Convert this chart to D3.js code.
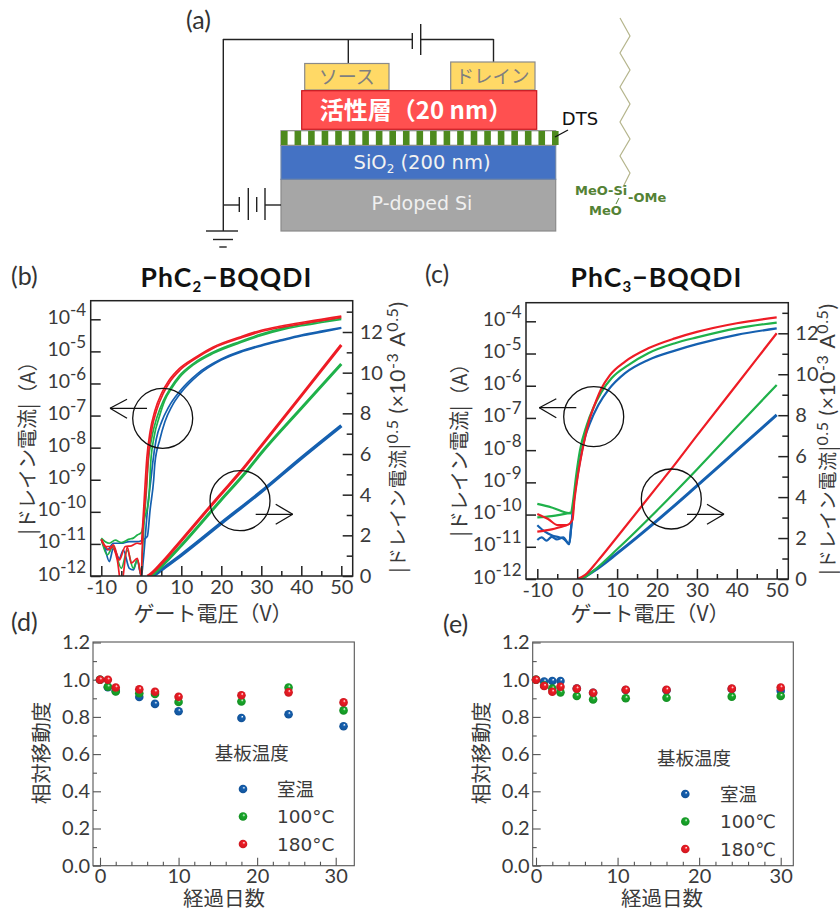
<!DOCTYPE html>
<html>
<head>
<meta charset="utf-8">
<script src="https://cdn.jsdelivr.net/npm/d3@7"></script>
<style>
  body { margin: 0; background: #fff; }
  svg { display: block; }
  text { font-family: Lato, "Noto Sans CJK JP", sans-serif; fill: #333; }
  .jp { font-family: "Noto Sans CJK JP", sans-serif; }
  .dv { font-family: "DejaVu Sans", sans-serif; }
</style>
</head>
<body>
<script>
// panel (b) PhC2-BQQDI, transfer curves: [gate voltage, log10 |Id|]
var bLogBlueA = [[-10,-10.85],[-8.5,-11.19],[-7,-10.98],[-5,-10.98],[-3,-10.93],[-1,-10.93],[0,-10.9],[1.5,-10.77],[2.2,-9.94],[3.1,-9.0],[3.4,-8.48],[4.6,-7.76],[5.9,-7.19],[7.6,-6.72],[10.1,-6.26],[14.2,-5.74],[20,-5.27],[24.7,-5.03],[30,-4.83],[35,-4.67],[40,-4.52],[45,-4.4],[50,-4.28]];
var bLogBlueB = [[-10,-10.875],[-9,-11.19],[-8,-11.55],[-7,-11.14],[-5.5,-11.45],[-4.5,-11.19],[-3,-11.76],[-2,-11.81],[-1,-11.5],[0,-12.02],[0.5,-11.5],[1.1,-10.6],[1.7,-9.7],[2.4,-9.0],[2.85,-8.48],[3.7,-7.76],[5.1,-7.19],[6.9,-6.72],[9.7,-6.23],[14,-5.7],[20,-5.24],[24.7,-5.0],[30,-4.8],[35,-4.64],[40,-4.49],[45,-4.37],[50,-4.26]];
var bLogGreenA = [[-10,-10.82],[-9,-10.93],[-8,-10.98],[-6.5,-10.88],[-5,-10.96],[-3,-10.85],[-2,-10.82],[-1,-10.72],[0,-10.65],[0.9,-10.15],[1.5,-9.9],[1.93,-9.53],[2.35,-8.48],[3.2,-7.66],[4.5,-7.04],[5.9,-6.52],[7.6,-6.15],[9.7,-5.79],[13,-5.42],[18,-5.06],[24.7,-4.73],[30,-4.5],[35,-4.33],[40,-4.2],[45,-4.1],[50,-4.0]];
var bLogGreenB = [[-10,-10.85],[-8.5,-11.34],[-7,-11.08],[-5,-11.76],[-3.5,-11.2],[-2,-11.76],[-1,-11.5],[0,-11.97],[0.3,-11.2],[0.7,-10.3],[1.2,-9.5],[1.7,-8.5],[2.6,-7.7],[3.9,-7.06],[5.5,-6.54],[7.3,-6.14],[9.5,-5.76],[13,-5.38],[18,-5.02],[24.7,-4.69],[30,-4.46],[35,-4.29],[40,-4.16],[45,-4.06],[50,-3.96]];
var bLogRedA = [[-10,-10.875],[-9,-11.08],[-7.5,-11.08],[-6,-11.5],[-5,-12.3],[-3.5,-11.1],[-2.5,-11.6],[-1,-11.45],[0,-12.0],[0.1,-11.7],[0.4,-10.6],[0.8,-9.9],[1.2,-9.32],[1.75,-8.28],[2.6,-7.45],[3.85,-6.83],[5.5,-6.31],[7.2,-5.94],[9.7,-5.58],[13,-5.27],[18,-4.9],[24.7,-4.59],[30,-4.38],[35,-4.25],[40,-4.14],[45,-4.04],[50,-3.94]];
var bLogRedB = [[-10,-10.85],[-8,-11.19],[-7,-11.03],[-5.5,-11.5],[-4,-11.08],[-2.5,-11.06],[-1,-10.98],[0,-11.0],[0.3,-10.5],[0.6,-9.9],[0.9,-9.25],[1.4,-8.3],[2.2,-7.5],[3.4,-6.85],[5.1,-6.3],[6.9,-5.91],[9.5,-5.54],[13,-5.23],[18,-4.86],[24.7,-4.55],[30,-4.34],[35,-4.21],[40,-4.1],[45,-4.0],[50,-3.9]];
// panel (b) |Id|^0.5 in 10^-3 A^0.5
var bSqrtBlue = [[3,0],[5,0.3],[10,1.03],[20,2.6],[30,4.15],[40,5.8],[50,7.39]];
var bSqrtGreen = [[2.5,0],[5,0.46],[10,1.5],[20,3.75],[25.9,5.05],[30,6.05],[40,8.25],[50,10.43]];
var bSqrtRed = [[1.5,0],[2,0.05],[5,0.62],[10,1.75],[20,4.05],[24.7,5.1],[30,6.4],[40,8.87],[50,11.36]];

// panel (c) PhC3-BQQDI
var cLogBlue = [[-10,-10.33],[-8.1,-10.53],[-6.4,-10.64],[-4.7,-10.7],[-3.5,-10.74],[-2,-10.9],[-1.5,-10.38],[-0.8,-9.55],[0.2,-8.7],[2,-7.58],[3.2,-7.16],[5.3,-6.6],[7.8,-6.13],[12,-5.61],[17.8,-5.2],[24.5,-4.91],[30,-4.71],[40,-4.42],[50,-4.22]];
var cLowBlue = [[-10,-10.79],[-8.9,-10.71],[-7.7,-10.81],[-6.4,-10.69],[-5.1,-10.77],[-3.5,-10.71],[-2,-10.92],[-1.5,-10.38],[-0.8,-9.55]];
var cLogGreen = [[-10,-9.67],[-6.4,-9.78],[-1.6,-9.96],[-1,-9.55],[-0.3,-8.83],[0.7,-8],[2.4,-7.22],[4,-6.7],[6.1,-6.19],[8.6,-5.77],[12.8,-5.36],[17.8,-4.99],[24.5,-4.68],[30,-4.5],[40,-4.22],[50,-4.04]];
var cLowGreen = [[-10,-10.09],[-6.4,-10.05],[-1.6,-9.94]];
var cLogRed = [[-10,-9.98],[-7.3,-10.14],[-4.8,-10.33],[-2.7,-10.33],[-1.2,-10.17],[-0.7,-9.55],[0.1,-8.83],[1.3,-8],[2.8,-7.17],[4.5,-6.55],[6.1,-6.08],[8.2,-5.67],[12,-5.25],[17.8,-4.84],[24.5,-4.53],[30,-4.33],[40,-4.06],[50,-3.88]];
var cLowRed = [[-10,-10.53],[-6.4,-10.46],[-2.7,-10.33]];
var cSqrtBlue = [[1,0],[5,0.5],[10,1.25],[20,2.85],[30,4.55],[40,6.28],[50,8.01]];
var cSqrtGreen = [[0.5,0],[2,0.1],[5,0.55],[10,1.45],[20,3.35],[30,5.35],[40,7.42],[50,9.48]];
var cSqrtRed = [[0,0],[2,0.2],[5,0.85],[10,2.05],[20,4.5],[23.7,5.4],[30,7.0],[40,9.5],[50,12]];

// panel (d) and (e), relative mobility against elapsed days
var dDays = [0, 1, 2, 5, 7, 10, 18, 24, 31];
var dBlue = [1.0, 0.96, 0.94, 0.907, 0.87, 0.83, 0.794, 0.814, 0.75];
var dGreen = [1.0, 0.962, 0.937, 0.927, 0.923, 0.88, 0.883, 0.958, 0.835];
var dRed = [1.0, 1.0, 0.958, 0.948, 0.935, 0.908, 0.916, 0.932, 0.878];
var eDays = [0, 1, 2, 3, 5, 7, 11, 16, 24, 30];
var eBlue = [1.0, 0.99, 0.993, 0.993, 0.953, 0.93, 0.945, 0.943, 0.95, 0.94];
var eGreen = [1.0, 0.968, 0.952, 0.932, 0.912, 0.894, 0.9, 0.903, 0.909, 0.912];
var eRed = [1.0, 0.966, 0.935, 0.962, 0.952, 0.93, 0.946, 0.946, 0.952, 0.958];

// tick labels
var gateTicks = [-10, 0, 10, 20, 30, 40, 50];
var gateMinor = [-5, 5, 15, 25, 35, 45];
var currentTicks = [-4, -5, -6, -7, -8, -9, -10, -11, -12];
var sqrtTicks = [0, 2, 4, 6, 8, 10, 12];
var sqrtMinor = [1, 3, 5, 7, 9, 11, 13];
var mobilityTicks = [0, 0.2, 0.4, 0.6, 0.8, 1.0, 1.2];
var mobilityMinor = [0.1, 0.3, 0.5, 0.7, 0.9, 1.1];
var dayTicks = [0, 10, 20, 30];
var dayMinor = [2, 4, 6, 8, 12, 14, 16, 18, 22, 24, 26, 28];

var colBlue = '#1560b0', colGreen = '#1fb14a', colRed = '#ee1c25';

var svg = d3.select('body').append('svg').attr('width', 840).attr('height', 911);

function txt(x, y, s, size, opt) {
    opt = opt || {};
    return svg.append('text').attr('x', x).attr('y', y).text(s)
        .attr('class', opt.cls || null)
        .attr('font-size', size)
        .attr('text-anchor', opt.anchor || 'middle')
        .attr('font-weight', opt.weight || null)
        .style('fill', opt.fill || null);
}

function seg(x1, y1, x2, y2, col, w) {
    svg.append('line').attr('x1', x1).attr('y1', y1).attr('x2', x2).attr('y2', y2)
        .attr('stroke', col || '#222').attr('stroke-width', w || 1.4);
}

function box(x, y, w, h, fill, stroke) {
    svg.append('rect').attr('x', x).attr('y', y).attr('width', w).attr('height', h)
        .attr('fill', fill).attr('stroke', stroke || '#8a8a8a').attr('stroke-width', 1.2);
}

// ---- (a) device sketch ----
txt(186, 29, '(a)', 25, { anchor: 'start' });

seg(223, 39.5, 412, 39.5); seg(421, 39.5, 493.5, 39.5);
seg(412.3, 33, 412.3, 49); seg(420.7, 24, 420.7, 55);
seg(223.3, 39, 223.3, 231);
seg(348.3, 39, 348.3, 63); seg(493.5, 39, 493.5, 62);

box(304.7, 63.5, 84.3, 26.5, '#ffd966');
box(450.7, 62, 84.3, 28, '#ffd966');
box(301.7, 90.7, 235, 38.6, '#ff5050', '#c8161d');
box(281, 179.3, 274.7, 51.7, '#a6a6a6');
box(281, 145.3, 274.7, 34, '#4472c4', '#6f86a8');
box(281, 130.7, 274.7, 14.6, '#fff', '#8a8a8a');
svg.selectAll('.stripe').data(d3.range(21)).enter().append('rect')
    .attr('class', 'stripe')
    .attr('x', d => 281 + d * 13.55)
    .attr('y', 131).attr('width', 6.6).attr('height', 14)
    .attr('fill', '#4e8a1e');

txt(346.7, 84, 'ソース', 19, { cls: 'jp', fill: '#7f7f7f' });
txt(492.5, 83, 'ドレイン', 18.5, { cls: 'jp', fill: '#7f7f7f' });
txt(416, 118.5, '活性層（20 nm）', 24, { cls: 'jp', weight: 'bold', fill: '#fff' });

var sio = txt(422, 169, 'SiO', 19.5, { cls: 'dv', fill: '#f2f2f2' });
sio.append('tspan').attr('font-size', 12).attr('dy', 4).text('2');
sio.append('tspan').attr('dy', -4).text(' (200 nm)');
txt(422, 210, 'P-doped Si', 19, { cls: 'dv', fill: '#f0f0f0' });
txt(580, 125, 'DTS', 18, { cls: 'dv', fill: '#111' });
seg(555, 137, 568, 130, '#111', 1.3);

// gate battery and ground
seg(223, 205, 239.3, 205);
seg(239.3, 197, 239.3, 212); seg(248.3, 188, 248.3, 220);
seg(256.7, 197, 256.7, 212); seg(265, 188, 265, 220);
seg(265, 205, 281, 205);
seg(206, 231, 238, 231); seg(213, 239.5, 233, 239.5); seg(219.3, 247, 226.7, 247);

// DTS molecule
var chain = [[620, 18], [630, 36], [620, 53], [630, 70], [620, 87], [630, 104], [620, 122], [630, 139], [620, 156], [630, 173], [623, 187]];
svg.append('path').attr('d', d3.line()(chain)).attr('fill', 'none')
    .attr('stroke', '#b5b58c').attr('stroke-width', 1.2);
txt(575, 195, 'MeO-Si', 13, { anchor: 'start', weight: 'bold', fill: '#548235', cls: 'dv' });
txt(628, 202, '-OMe', 13, { anchor: 'start', weight: 'bold', fill: '#548235', cls: 'dv' });
txt(589, 215, 'MeO', 13, { anchor: 'start', weight: 'bold', fill: '#548235', cls: 'dv' });
seg(619, 198, 616, 204, '#548235', 1);

// ---- shared axis parts ----
function styleAxis(g, col, w, size) {
    g.select('.domain').remove();
    g.selectAll('.tick line').attr('stroke', col).attr('stroke-width', w);
    g.selectAll('.tick text').attr('font-size', size).style('fill', '#3a3a3a');
}

function frame(x0, y0, x1, y1, col, w) {
    svg.append('rect').attr('x', x0).attr('y', y0).attr('width', x1 - x0).attr('height', y1 - y0)
        .attr('fill', 'none').attr('stroke', col).attr('stroke-width', w);
}

function lineOf(x, y, isLog) {
    return d3.line()
        .curve(d3.curveMonotoneX)
        .x(d => x(d[0]))
        .y(d => isLog ? y(Math.pow(10, d[1])) : y(d[1]));
}

// ---- (b)(c) transfer panels ----
function transferPanel(o) {
    var x = d3.scaleLinear().domain([-10, 50]).range([o.xm10, o.x50]);
    var yLog = d3.scaleLog().domain([1e-12, 1e-4]).range([o.bottom, o.y4]);
    var yR = d3.scaleLinear().domain([0, 12]).range([o.bottom, o.y12]);

    var clipId = 'clip' + o.id;
    svg.append('clipPath').attr('id', clipId).append('rect')
        .attr('x', o.left).attr('y', o.top).attr('width', o.right - o.left).attr('height', o.bottom - o.top);

    var plot = svg.append('g').attr('clip-path', 'url(#' + clipId + ')');
    o.logLines.forEach(function (s) {
        plot.append('path').datum(s.data).attr('d', lineOf(x, yLog, true))
            .attr('fill', 'none').attr('stroke', s.col).attr('stroke-width', o.logW);
    });
    o.sqrtLines.forEach(function (s) {
        plot.append('path').datum(s.data).attr('d', lineOf(x, yR, false))
            .attr('fill', 'none').attr('stroke', s.col).attr('stroke-width', s.w || o.sqrtW);
    });

    frame(o.left, o.top, o.right, o.bottom, '#222', 1.5);

    var gb = svg.append('g').attr('transform', 'translate(0,' + o.bottom + ')')
        .call(d3.axisBottom(x).tickValues(gateTicks).tickFormat(String).tickSize(-10).tickPadding(4));
    styleAxis(gb, '#222', 1.5, 20);
    var gbm = svg.append('g').attr('transform', 'translate(0,' + o.bottom + ')')
        .call(d3.axisBottom(x).tickValues(gateMinor).tickFormat('').tickSize(-5));
    styleAxis(gbm, '#222', 1.5, 10);

    var gl = svg.append('g').attr('transform', 'translate(' + o.left + ',0)')
        .call(d3.axisLeft(yLog).tickValues(currentTicks.map(e => Math.pow(10, e))).tickFormat('').tickSize(-10));
    styleAxis(gl, '#222', 1.5, 19);
    currentTicks.forEach(function (e) {
        var t = txt(o.left - 4.5, yLog(Math.pow(10, e)) + 4.5, '10', 19.5, { anchor: 'end', fill: '#3a3a3a' });
        t.append('tspan').attr('font-size', 17).attr('dy', -8).text(String(e));
    });

    var gr = svg.append('g').attr('transform', 'translate(' + o.right + ',0)')
        .call(d3.axisRight(yR).tickValues(sqrtTicks).tickFormat(String).tickSize(-10).tickPadding(7));
    styleAxis(gr, '#222', 1.5, 20);
    var grm = svg.append('g').attr('transform', 'translate(' + o.right + ',0)')
        .call(d3.axisRight(yR).tickValues(sqrtMinor).tickFormat('').tickSize(-6));
    styleAxis(grm, '#222', 1.5, 10);

    // circles and arrows pointing at the axis each family belongs to
    svg.append('circle').attr('cx', o.c1[0]).attr('cy', o.c1[1]).attr('r', 30)
        .attr('fill', 'none').attr('stroke', '#111').attr('stroke-width', 1.3);
    svg.append('circle').attr('cx', o.c2[0]).attr('cy', o.c2[1]).attr('r', 30)
        .attr('fill', 'none').attr('stroke', '#111').attr('stroke-width', 1.3);
    var a1 = o.a1, a2 = o.a2;
    seg(a1[0], a1[1], a1[0] + 37, a1[1], '#111', 1.3);
    seg(a1[0], a1[1], a1[0] + 17, a1[1] - 9, '#111', 1.3);
    seg(a1[0], a1[1], a1[0] + 17, a1[1] + 10, '#111', 1.3);
    seg(a2[0], a2[1], a2[0] - 37, a2[1], '#111', 1.3);
    seg(a2[0], a2[1], a2[0] - 17, a2[1] - 10, '#111', 1.3);
    seg(a2[0], a2[1], a2[0] - 17, a2[1] + 10, '#111', 1.3);

    // texts
    var t = txt(o.titleX, 287, o.titleA, 26.5, { weight: 'bold', anchor: 'middle', fill: '#111' })
        .style('letter-spacing', '1.1px');
    t.append('tspan').attr('font-size', 15).attr('dy', 5).text(o.sub);
    t.append('tspan').attr('dy', -5).text('−BQQDI');

    txt(o.xLabelX, 621, 'ゲート電圧（V）', 21, { cls: 'jp', fill: '#3a3a3a' });

    svg.append('text').attr('class', 'jp').attr('font-size', 20).attr('text-anchor', 'middle')
        .attr('transform', 'translate(' + o.yLabelX + ',' + o.yLabelY + ') rotate(-90)')
        .style('fill', '#3a3a3a')
        .text('|ドレイン電流|（A）');

    var r = svg.append('text').attr('font-size', 21).attr('text-anchor', 'middle')
        .attr('transform', 'translate(' + o.rLabelX + ',' + o.rLabelY + ') rotate(-90)')
        .style('fill', '#3a3a3a')
        .style('letter-spacing', '0.6px');
    r.append('tspan').attr('class', 'jp').attr('font-size', 19).text('|ドレイン電流|');
    r.append('tspan').attr('font-size', 16).attr('dy', -7).text('0.5');
    r.append('tspan').attr('dy', 7).text(' (×10');
    r.append('tspan').attr('font-size', 16).attr('dy', -7).text('-3');
    r.append('tspan').attr('dy', 7).text(' A');
    r.append('tspan').attr('font-size', 16).attr('dy', -7).text('0.5');
    r.append('tspan').attr('dy', 7).text(')');
}

transferPanel({
    id: 'b', left: 90.7, right: 352.7, top: 300.7, bottom: 576,
    xm10: 101.3, x50: 341.3, y4: 319.3, y12: 332,
    logW: 1.7, sqrtW: 3,
    logLines: [
        { data: bLogBlueA, col: colBlue }, { data: bLogBlueB, col: colBlue },
        { data: bLogGreenA, col: colGreen }, { data: bLogGreenB, col: colGreen },
        { data: bLogRedA, col: colRed }, { data: bLogRedB, col: colRed }
    ],
    sqrtLines: [
        { data: bSqrtBlue, col: colBlue, w: 3.5 }, { data: bSqrtGreen, col: colGreen }, { data: bSqrtRed, col: colRed }
    ],
    c1: [162.7, 418.3], c2: [240, 500.7], a1: [110, 408.3], a2: [292.7, 514.3],
    titleX: 226.5, titleA: 'PhC', sub: '2',
    xLabelX: 213, yLabelX: 35, yLabelY: 443, rLabelX: 405, rLabelY: 437
});

transferPanel({
    id: 'c', left: 526, right: 788.3, top: 302.7, bottom: 579,
    xm10: 537.3, x50: 776.7, y4: 321.3, y12: 333.3,
    logW: 2.2, sqrtW: 2.2,
    logLines: [
        { data: cLogBlue, col: colBlue }, { data: cLowBlue, col: colBlue },
        { data: cLogGreen, col: colGreen }, { data: cLowGreen, col: colGreen },
        { data: cLogRed, col: colRed }, { data: cLowRed, col: colRed }
    ],
    sqrtLines: [
        { data: cSqrtBlue, col: colBlue, w: 3 }, { data: cSqrtGreen, col: colGreen }, { data: cSqrtRed, col: colRed }
    ],
    c1: [593.7, 416.7], c2: [671.3, 499], a1: [539.3, 407.7], a2: [724, 514.3],
    titleX: 656.5, titleA: 'PhC', sub: '3',
    xLabelX: 650, yLabelX: 467, yLabelY: 445, rLabelX: 835, rLabelY: 439
});

// ---- sphere-like markers ----
var defs = svg.append('defs');
[['gBlue', colBlue], ['gGreen', '#18a82a'], ['gRed', colRed]].forEach(function (g) {
    var grad = defs.append('radialGradient').attr('id', g[0])
        .attr('cx', '50%').attr('cy', '50%').attr('r', '55%').attr('fx', '62%').attr('fy', '32%');
    grad.append('stop').attr('offset', '0%').attr('stop-color', '#fff');
    grad.append('stop').attr('offset', '30%').attr('stop-color', g[1]);
    grad.append('stop').attr('offset', '100%').attr('stop-color', d3.color(g[1]).darker(0.5));
});

// ---- (d)(e) mobility panels ----
function mobilityPanel(o) {
    var x = d3.scaleLinear().domain([0, 30]).range([o.x0, o.x30]);
    var y = d3.scaleLinear().domain([0, 1.2]).range([865.7, 642.5]);

    frame(o.left, 642, o.right, 865.7, '#555', 1.1);

    var gb = svg.append('g').attr('transform', 'translate(0,865.7)')
        .call(d3.axisBottom(x).tickValues(dayTicks).tickFormat(String).tickSize(-8).tickPadding(3));
    styleAxis(gb, '#555', 1.1, 20);
    var gbm = svg.append('g').attr('transform', 'translate(0,865.7)')
        .call(d3.axisBottom(x).tickValues(dayMinor).tickFormat('').tickSize(-4));
    styleAxis(gbm, '#555', 1.1, 10);
    var gl = svg.append('g').attr('transform', 'translate(' + o.left + ',0)')
        .call(d3.axisLeft(y).tickValues(mobilityTicks).tickFormat(d => d.toFixed(1)).tickSize(-8).tickPadding(3));
    styleAxis(gl, '#555', 1.1, 20);
    var glm = svg.append('g').attr('transform', 'translate(' + o.left + ',0)')
        .call(d3.axisLeft(y).tickValues(mobilityMinor).tickFormat('').tickSize(-4));
    styleAxis(glm, '#555', 1.1, 10);

    o.series.forEach(function (s) {
        svg.append('g').selectAll('circle').data(s.values).enter().append('circle')
            .attr('cx', (d, i) => x(o.days[i]))
            .attr('cy', d => y(d))
            .attr('r', 4.3)
            .attr('fill', 'url(#' + s.grad + ')');
    });

    // legend
    txt(o.legX, o.legY, '基板温度', 18.5, { cls: 'jp', fill: '#3a3a3a' });
    o.series.forEach(function (s, i) {
        var ly = o.legY + 29 + i * 27.5;
        svg.append('circle').attr('cx', o.legMark).attr('cy', ly).attr('r', 4.3).attr('fill', 'url(#' + s.grad + ')');
        txt(o.legText, ly + 6.5, s.name, 18.5, { anchor: 'start', cls: i ? 'dv' : 'jp', fill: '#3a3a3a' });
    });

    txt(o.xLabelX, 906, '経過日数', 20.5, { cls: 'jp', fill: '#3a3a3a' });
    svg.append('text').attr('class', 'jp').attr('font-size', 20.5).attr('text-anchor', 'middle')
        .attr('transform', 'translate(' + o.yLabelX + ',753) rotate(-90)')
        .style('fill', '#3a3a3a').text('相対移動度');
}

mobilityPanel({
    left: 93, right: 354.3, x0: 100, x30: 335.7, days: dDays,
    series: [
        { values: dBlue, grad: 'gBlue', name: '室温' },
        { values: dGreen, grad: 'gGreen', name: '100°C' },
        { values: dRed, grad: 'gRed', name: '180°C' }
    ],
    legX: 251.7, legY: 760, legMark: 243, legText: 277,
    xLabelX: 224, yLabelX: 49
});

mobilityPanel({
    left: 532.7, right: 793.3, x0: 536, x30: 780.7, days: eDays,
    series: [
        { values: eBlue, grad: 'gBlue', name: '室温' },
        { values: eGreen, grad: 'gGreen', name: '100℃' },
        { values: eRed, grad: 'gRed', name: '180℃' }
    ],
    legX: 694, legY: 765, legMark: 685.3, legText: 720,
    xLabelX: 662, yLabelX: 489
});

// panel letters
txt(11, 285, '(b)', 25, { anchor: 'start' });
txt(425, 283, '(c)', 25, { anchor: 'start' });
txt(11, 631, '(d)', 25, { anchor: 'start' });
txt(443, 633, '(e)', 25, { anchor: 'start' });
</script>
</body>
</html>
